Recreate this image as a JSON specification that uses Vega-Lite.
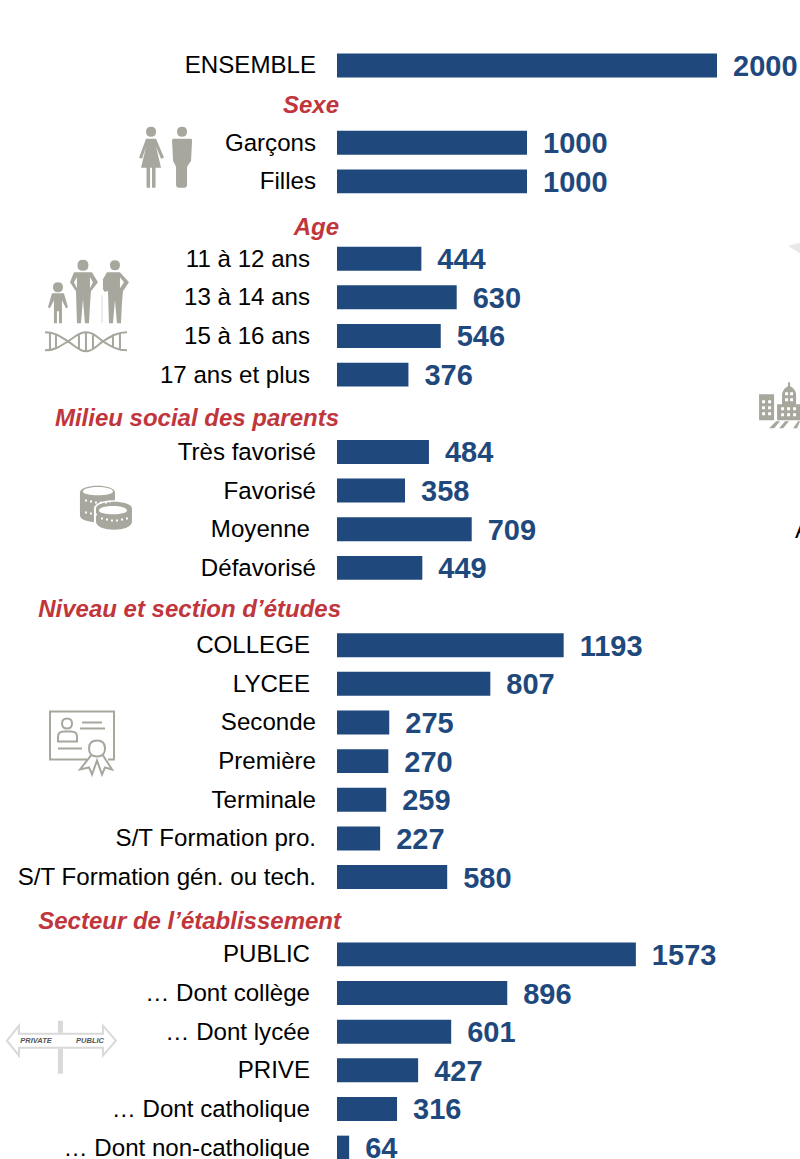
{
"$schema":"https://vega.github.io/schema/vega-lite/v6.json",
"width":800,"height":1159,
"autosize":{"type":"none"},
"padding":0,
"background":"white",
"config":{"view":{"stroke":null},"axis":{"domain":false,"ticks":false,"labels":false,"grid":false,"title":null}},
"datasets":{
"lignes":[
{"libelle":"ENSEMBLE","type":"barre","valeur":2000},
{"libelle":"Sexe","type":"entete"},
{"libelle":"Garçons","type":"barre","valeur":1000},
{"libelle":"Filles","type":"barre","valeur":1000},
{"libelle":"Age","type":"entete"},
{"libelle":"11 à 12 ans","type":"barre","valeur":444},
{"libelle":"13 à 14 ans","type":"barre","valeur":630},
{"libelle":"15 à 16 ans","type":"barre","valeur":546},
{"libelle":"17 ans et plus","type":"barre","valeur":376},
{"libelle":"Milieu social des parents","type":"entete"},
{"libelle":"Très favorisé","type":"barre","valeur":484},
{"libelle":"Favorisé","type":"barre","valeur":358},
{"libelle":"Moyenne","type":"barre","valeur":709},
{"libelle":"Défavorisé","type":"barre","valeur":449},
{"libelle":"Niveau et section d’études","type":"entete"},
{"libelle":"COLLEGE","type":"barre","valeur":1193},
{"libelle":"LYCEE","type":"barre","valeur":807},
{"libelle":"Seconde","type":"barre","valeur":275},
{"libelle":"Première","type":"barre","valeur":270},
{"libelle":"Terminale","type":"barre","valeur":259},
{"libelle":"S/T Formation pro.","type":"barre","valeur":227},
{"libelle":"S/T Formation gén. ou tech.","type":"barre","valeur":580},
{"libelle":"Secteur de l’établissement","type":"entete"},
{"libelle":"PUBLIC","type":"barre","valeur":1573},
{"libelle":"… Dont collège","type":"barre","valeur":896},
{"libelle":"… Dont lycée","type":"barre","valeur":601},
{"libelle":"PRIVE","type":"barre","valeur":427},
{"libelle":"… Dont catholique","type":"barre","valeur":316},
{"libelle":"… Dont non-catholique","type":"barre","valeur":64}
],
"icones":[
{"partie":"genre","ton":"gris","libelle":"Garçons","position":-905},
{"partie":"ages","ton":"gris","libelle":"13 à 14 ans","position":-1316},
{"partie":"agesB","ton":"blanc","libelle":"13 à 14 ans","position":-1316},
{"partie":"canne","ton":"clair","libelle":"13 à 14 ans","position":-1316},
{"partie":"pieces1","ton":"gris","libelle":"Favorisé","position":-1216},
{"partie":"halo","ton":"blanc","libelle":"Favorisé","position":-1216},
{"partie":"pieces2","ton":"gris","libelle":"Favorisé","position":-1216},
{"partie":"piecesB","ton":"blanc","libelle":"Favorisé","position":-1216},
{"partie":"poteau","ton":"clair","libelle":"… Dont lycée","position":-1453},
{"partie":"ville","ton":"gris","libelle":"Milieu social des parents","position":2332},
{"partie":"villeB","ton":"blanc","libelle":"Milieu social des parents","position":2332},
{"partie":"tache","ton":"pale","libelle":"11 à 12 ans","position":2411}
],
"traits":[
{"partie":"adn","ton":"gris","libelle":"13 à 14 ans","position":-1316},
{"partie":"diplome","ton":"gris","libelle":"Seconde","position":-1342},
{"partie":"panneau","ton":"clair","libelle":"… Dont lycée","position":-1453}
],
"mots":[
{"mot":"PRIVATE","libelle":"… Dont lycée","position":-1584},
{"mot":"PUBLIC","libelle":"… Dont lycée","position":-1300}
],
"fragment":[{"mot":"A","libelle":"Moyenne","position":2411}]
},
"resolve":{"scale":{"shape":"independent"}},
"layer":[
{"data":{"name":"icones"},
"mark":{"type":"point","filled":true,"size":4,"opacity":1},
"encoding":{
"x":{"field":"position","type":"quantitative"},
"y":{"field":"libelle","type":"nominal"},
"fill":{"field":"ton","type":"nominal","legend":null,"scale":{"domain":["gris","clair","blanc","pale"],"range":["#a8a79e","#d9d9d9","#ffffff","#e8e8e8"]}},
"shape":{"field":"partie","type":"nominal","legend":null,"scale":{
"domain":["genre","ages","agesB","canne","pieces1","halo","pieces2","piecesB","poteau","ville","villeB","tache"],
"range":[
"M-19 -11Q-19 -16 -14 -16Q-9 -16 -9 -11Q-9 -6 -14 -6Q-19 -6 -19 -11ZM-19 -4L-9 -4L-1 15L-4 16L-9 4L-4 25L-24 25L-19 4L-23 16L-26 15ZM-18.5 25L-15 25L-15 45L-18.5 45ZM-13 25L-9.5 25L-9.5 45L-13 45ZM12 -11Q12 -16 17 -16Q22 -16 22 -11Q22 -6 17 -6Q12 -6 12 -11ZM8 -4L26 -4Q27 -4 27 -2L26 18L22 24L22 42Q22 45 19 45L14 45Q11 45 11 42L11 24L8 18L7 -2Q7 -4 8 -4Z",
"M-34 -10Q-34 -15 -29 -15Q-24 -15 -24 -10Q-24 -5 -29 -5Q-34 -5 -34 -10ZM-35 -4L-23 -4L-19 10L-21 11L-25 3L-25 26L-28 26L-28 14L-30 14L-30 26L-33 26L-33 3L-37 11L-39 10ZM-9.5 -32Q-9.5 -37.5 -4 -37.5Q1.5 -37.5 1.5 -32Q1.5 -26.5 -4 -26.5Q-9.5 -26.5 -9.5 -32ZM-13 -25L5 -25L11 -15L4 -6L3 8L2 26L-2 26L-4 2L-6 26L-10 26L-11 -6L-17 -15ZM23 -32Q23 -37 28 -37Q33 -37 33 -32Q33 -27 28 -27Q23 -27 23 -32ZM20 -25L33 -25L42 -15L36 -6L35 6L34 26L30 26L28 3L26 26L22 26L21 -6L19 -6L18 -5L16 -8L16 -18Z",
"M-13 -15L-10 -20L-10 -9ZM6 -15L3 -20L3 -9ZM37 -15L33 -20L33 -9Z",
"M14.5 -2L15.5 -2L15.5 26L14.5 26Z",
"M-26 2C-26 -7 9 -7 9 2L9 25C9 34 -26 34 -26 25Z",
"M-12 18C-12 7 28 7 28 18L28 31C28 44 -12 44 -12 31Z",
"M-10 18C-10 9 26 9 26 18L26 31C26 42 -10 42 -10 31Z",
"M-23 1C-23 -5 7 -5 7 1C7 6 -23 6 -23 1ZM-7 20C-7 14 21 14 21 20C21 25 -7 25 -7 20ZM-21 9L-19 9L-19 11L-21 11ZM-16 10L-14 10L-14 12L-16 12ZM-11 11L-9 11L-9 13L-11 13ZM-6 11L-4 11L-4 13L-6 13ZM-1 11L1 11L1 13L-1 13ZM3 10L5 10L5 12L3 12ZM-21 21L-19 21L-19 23L-21 23ZM-16 22L-14 22L-14 24L-16 24ZM-11 23L-9 23L-9 25L-11 25ZM-5 27L-3 27L-3 29L-5 29ZM0 28L2 28L2 30L0 30ZM5 29L7 29L7 31L5 31ZM10 29L12 29L12 31L10 31ZM15 28L17 28L17 30L15 30ZM20 27L22 27L22 29L20 29Z",
"M-3 -11L2 -11L2 1L-3 1ZM-3 17L2 17L2 42L-3 42Z",
"M-21 -19L-6 -19L-6 7L-21 7ZM-3 -9L2 -9L2 -19Q3 -25 8 -27L8 -31L10 -31L10 -27Q15 -25 16 -19L16 -9L22 -9L22 7L-3 7ZM-11 15L-4 8L0 8L-6 15ZM-1 15L5 8L9 8L3 15ZM13 15L18 8L20 8L17 15Z",
"M-18 -13L-15 -13L-15 -10L-18 -10ZM-12 -13L-9 -13L-9 -10L-12 -10ZM-18 -7L-15 -7L-15 -4L-18 -4ZM-12 -7L-9 -7L-9 -4L-12 -4ZM-18 -1L-15 -1L-15 2L-18 2ZM-12 -1L-9 -1L-9 2L-12 2ZM5 -21L8 -21L8 -18L5 -18ZM10 -21L13 -21L13 -18L10 -18ZM5 -15L8 -15L8 -12L5 -12ZM10 -15L13 -15L13 -12L10 -12ZM1 -6L4 -6L4 -3L1 -3ZM7 -6L10 -6L10 -3L7 -3ZM13 -6L16 -6L16 -3L13 -3ZM1 0L4 0L4 3L1 3ZM7 0L10 0L10 3L7 3ZM13 0L16 0L16 3L13 3Z",
"M-7 -13L5 -16L5 -5Z"
]}}
}},
{"data":{"name":"traits"},
"mark":{"type":"point","filled":false,"size":4,"opacity":1,"strokeWidth":2},
"encoding":{
"x":{"field":"position","type":"quantitative"},
"y":{"field":"libelle","type":"nominal"},
"stroke":{"field":"ton","type":"nominal","legend":null,"scale":{"domain":["gris","clair"],"range":["#a8a79e","#d9d9d9"]}},
"shape":{"field":"partie","type":"nominal","legend":null,"scale":{
"domain":["adn","diplome","panneau"],
"range":[
"M-42 35C-32 35 -27 39 -19 44C-11 49 -8 54 -1 54C6 54 9 49 16 44C24 39 30 35 40 35M-42 53C-32 53 -27 49 -19 44C-11 39 -8 35 -1 35C6 35 9 39 16 44C24 49 30 53 40 53M-37 36L-37 52M-31 37L-31 50M-8 38L-8 51M-1 36L-1 53M6 38L6 51M26 37L26 50M33 36L33 52",
"M5 37L-32 37L-32 -11L32 -11L32 37L26 37M-20 1Q-20 -4 -15 -4Q-10 -4 -10 1Q-10 6 -15 6Q-20 6 -20 1ZM-24 19L-24 14Q-24 9 -18 9L-11 9Q-5 9 -5 14L-5 19ZM0 0L20 0M-2 6L23 6M-24 26L0 26M7 26Q7 18 15 18Q23 18 23 26Q23 34 15 34Q7 34 7 26ZM9 33L-2 47L7 45L10 52L15 38L20 52L23 45L30 47L21 33",
"M-54 9L-42 -6L-42 2L42 2L42 -6L55 9L42 24L42 16L-42 16L-42 24Z"
]}}
}},
{"data":{"name":"mots"},
"mark":{"type":"text","font":"Liberation Sans","fontSize":7.5,"fontStyle":"italic","fontWeight":"bold","color":"#555555","dy":9},
"encoding":{"x":{"field":"position","type":"quantitative"},"y":{"field":"libelle","type":"nominal"},"text":{"field":"mot"}}},
{"data":{"name":"fragment"},
"mark":{"type":"text","font":"Liberation Sans","fontSize":24,"align":"left","baseline":"middle","color":"#000000","dy":2},
"encoding":{"x":{"field":"position","type":"quantitative"},"y":{"field":"libelle","type":"nominal"},"text":{"field":"mot"}}},
{"data":{"name":"lignes"},
"transform":[{"filter":"datum.type==='barre'"}],
"mark":{"type":"bar","color":"#1f497d"},
"encoding":{
"x":{"field":"valeur","type":"quantitative","axis":null,"scale":{"domain":[-1773.68,2436.84],"range":[0,800],"nice":false,"zero":false}},
"y":{"field":"libelle","type":"nominal","axis":null,"sort":null,"scale":{"domain":[
"ENSEMBLE","Sexe","Garçons","Filles","Age","11 à 12 ans","13 à 14 ans","15 à 16 ans","17 ans et plus","Milieu social des parents","Très favorisé","Favorisé","Moyenne","Défavorisé","Niveau et section d’études","COLLEGE","LYCEE","Seconde","Première","Terminale","S/T Formation pro.","S/T Formation gén. ou tech.","Secteur de l’établissement","PUBLIC","… Dont collège","… Dont lycée","PRIVE","… Dont catholique","… Dont non-catholique"],
"range":[46.1,1166.95],"paddingInner":0.38,"paddingOuter":0.19}}
}},
{"data":{"name":"lignes"},
"transform":[{"filter":"datum.type==='barre'"}],
"mark":{"type":"text","font":"Liberation Sans","fontSize":29,"fontWeight":"bold","align":"left","baseline":"middle","color":"#1f497d","dx":16,"dy":1.5},
"encoding":{"x":{"field":"valeur","type":"quantitative"},"y":{"field":"libelle","type":"nominal"},"text":{"field":"valeur","type":"quantitative"}}},
{"data":{"name":"lignes"},
"transform":[{"filter":"datum.type==='barre'"}],
"mark":{"type":"text","font":"Liberation Sans","fontSize":24.1,"align":"right","baseline":"middle","color":"#000000","dy":1,
"dx":{"expr":"indexof(['11 à 12 ans','13 à 14 ans','15 à 16 ans','17 ans et plus','Moyenne','COLLEGE','LYCEE','PUBLIC','… Dont collège','… Dont lycée','PRIVE','… Dont catholique','… Dont non-catholique'],datum.libelle)>=0?-27:-21"}},
"encoding":{"x":{"datum":0,"type":"quantitative"},"y":{"field":"libelle","type":"nominal"},"text":{"field":"libelle"}}},
{"data":{"name":"lignes"},
"transform":[{"filter":"datum.type==='entete'"}],
"mark":{"type":"text","font":"Liberation Sans","fontSize":24,"fontStyle":"italic","fontWeight":"bold","align":"right","baseline":"middle","color":"#c0363c",
"dx":{"expr":"indexof(['Niveau et section d’études','Secteur de l’établissement'],datum.libelle)>=0?4:2"},
"dy":{"expr":"{'Sexe':1.5,'Age':7.5,'Milieu social des parents':5.5,'Niveau et section d’études':3.5,'Secteur de l’établissement':6.5}[datum.libelle]"}},
"encoding":{"x":{"datum":0,"type":"quantitative"},"y":{"field":"libelle","type":"nominal"},"text":{"field":"libelle"}}}
]
}
